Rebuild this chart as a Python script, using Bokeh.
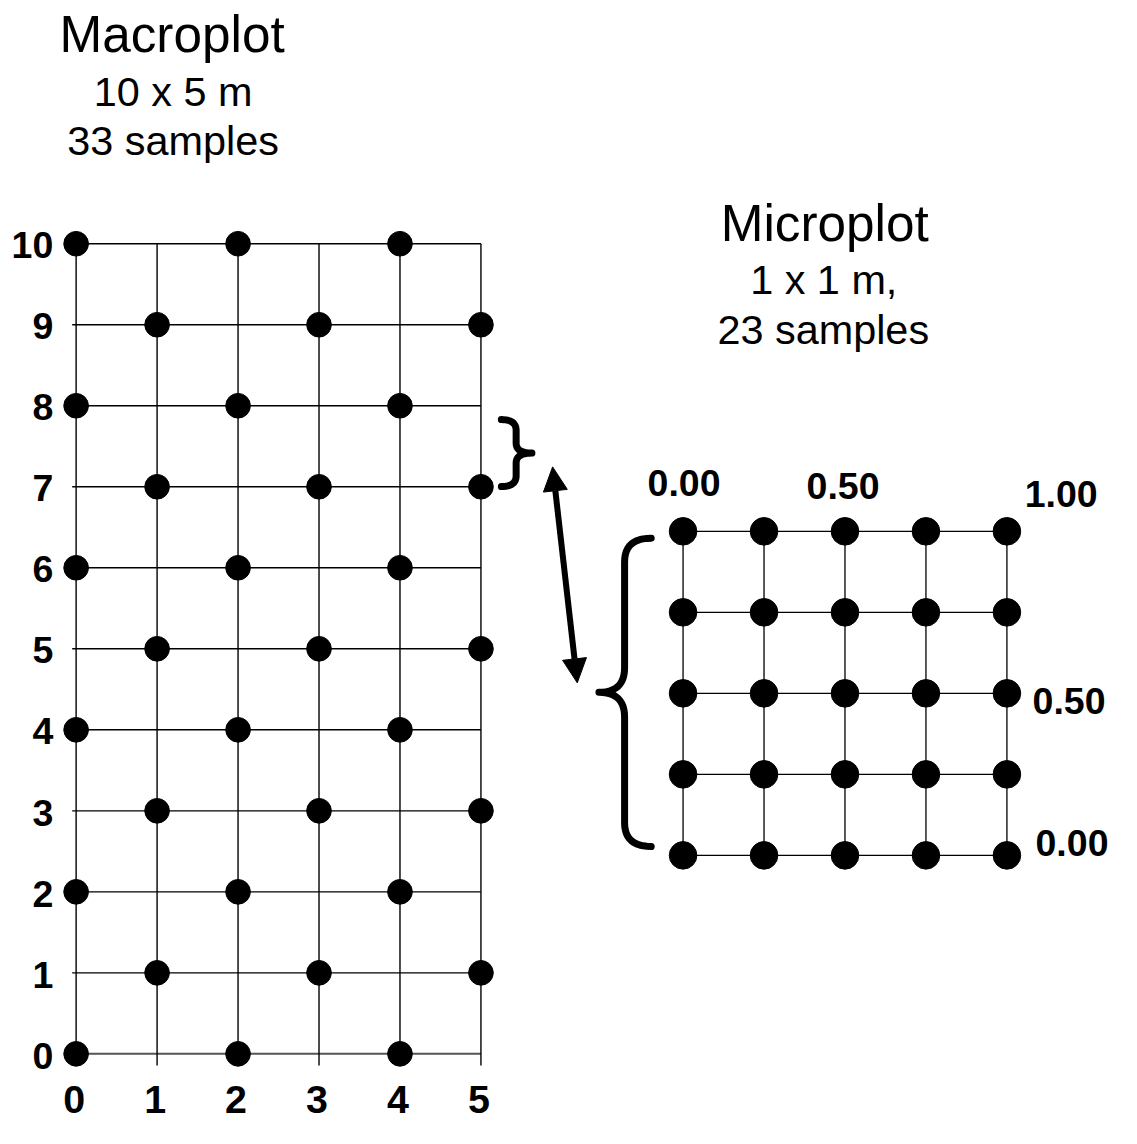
from bokeh.plotting import figure
from bokeh.models import Range1d, Arrow, NormalHead
from bokeh.core.properties import value
from bokeh.embed import file_html
from bokeh.resources import INLINE

# ---------------- data ----------------
macro_x_ticks = [0, 1, 2, 3, 4, 5]
macro_y_ticks = [0, 1, 2, 3, 4, 5, 6, 7, 8, 9, 10]
macro_x_labels = ["0", "1", "2", "3", "4", "5"]
macro_y_labels = ["0", "1", "2", "3", "4", "5", "6", "7", "8", "9", "10"]

# sample points of the macroplot (metres)
macro_pts_x = [0, 2, 4, 1, 3, 5, 0, 2, 4, 1, 3, 5, 0, 2, 4, 1, 3, 5,
               0, 2, 4, 1, 3, 5, 0, 2, 4, 1, 3, 5, 0, 2, 4]
macro_pts_y = [10, 10, 10, 9, 9, 9, 8, 8, 8, 7, 7, 7, 6, 6, 6, 5, 5, 5,
               4, 4, 4, 3, 3, 3, 2, 2, 2, 1, 1, 1, 0, 0, 0]

# microplot (metres)
micro_ticks = [0.0, 0.25, 0.5, 0.75, 1.0]
micro_pts_u = [0.0, 0.25, 0.5, 0.75, 1.0] * 5
micro_pts_v = [1.0] * 5 + [0.75] * 5 + [0.5] * 5 + [0.25] * 5 + [0.0] * 5
micro_top_vals = [0.0, 0.5, 1.0]
micro_top_labels = ["0.00", "0.50", "1.00"]
micro_right_vals = [0.5, 0.0]
micro_right_labels = ["0.50", "0.00"]

macro_title = ["Macroplot", "10 x 5 m", "33 samples"]
micro_title = ["Microplot", "1 x 1 m,", "23 samples"]

# ---------------- layout (reference pixels -> data units) ----------------
W, H = 1121, 1128
REF_W, REF_H = 1137, 1144
S = W / REF_W
PX, PY = 82.12, 82.16          # reference pixels per macroplot metre
X0P, Y0P = 76.7, 1068.3        # reference position of macroplot origin


def X(px):
    return (px - X0P) / PX


def Y(py):
    return (Y0P - py) / PY


def fs(n):
    return "%.1fpx" % (n * S)


def lift(n):
    # correction so that the alphabetic baseline lands where intended
    return -0.35 * n * S


MX0, MY0, MS = X(692.3), Y(867.0), 4.0   # microplot origin and scale


def mx(u):
    return MX0 + MS * u


def my(v):
    return MY0 + MS * v


p = figure(width=W, height=H,
           x_range=Range1d(X(0), X(REF_W)), y_range=Range1d(Y(REF_H), Y(0)),
           x_axis_type=None, y_axis_type=None,
           output_backend="svg", toolbar_location=None, min_border=0)
p.outline_line_color = None
p.background_fill_color = "white"
p.border_fill_color = "white"

FONT = value("Liberation Sans")

# ---- macroplot grid ----
h_y = [t for t in macro_y_ticks if t != 0]
p.segment(x0=[X(72.7)] * len(h_y), y0=h_y, x1=[macro_x_ticks[-1]] * len(h_y), y1=h_y,
          line_color="black", line_width=1.4)
p.segment(x0=[X(72.7)], y0=[0], x1=[macro_x_ticks[-1]], y1=[0],
          line_color="#555555", line_width=2)
p.segment(x0=macro_x_ticks, y0=[Y(1080)] * len(macro_x_ticks),
          x1=macro_x_ticks, y1=[macro_y_ticks[-1]] * len(macro_x_ticks),
          line_color="black", line_width=1.4)
p.scatter(x=macro_pts_x, y=macro_pts_y, size=25 * S, marker="circle",
          fill_color="black", line_color="black")

# macroplot tick labels
p.text(x=[X(53.5)] * len(macro_y_ticks), y=[t - 15 / PY for t in macro_y_ticks],
       text=macro_y_labels, text_font=FONT, text_font_size=value(fs(38)),
       text_font_style="bold", text_align="right", text_baseline="alphabetic",
       y_offset=lift(38), text_color="black")
p.text(x=[t - 2 / PX for t in macro_x_ticks], y=[Y(1129)] * len(macro_x_ticks),
       text=macro_x_labels, text_font=FONT, text_font_size=value(fs(40)),
       text_font_style="bold", text_align="center", text_baseline="alphabetic",
       y_offset=lift(40), text_color="black")

# ---- microplot grid ----
p.segment(x0=[mx(0)] * 5, y0=[my(v) for v in micro_ticks],
          x1=[mx(1)] * 5, y1=[my(v) for v in micro_ticks],
          line_color="black", line_width=1.3)
p.segment(x0=[mx(u) for u in micro_ticks], y0=[my(0)] * 5,
          x1=[mx(u) for u in micro_ticks], y1=[my(1)] * 5,
          line_color="black", line_width=1.3)
p.scatter(x=[mx(u) for u in micro_pts_u], y=[my(v) for v in micro_pts_v],
          size=28 * S, marker="circle", fill_color="black", line_color="black")

top_dx = [1, -2, 55]
top_dy = [36, 33, 25]
p.text(x=[mx(u) + d / PX for u, d in zip(micro_top_vals, top_dx)],
       y=[my(1) + d / PY for d in top_dy],
       text=micro_top_labels, text_font=FONT, text_font_size=value(fs(38)),
       text_font_style="bold", text_align="center", text_baseline="alphabetic",
       y_offset=lift(38), text_color="black")
right_dx = [26, 29]
right_dy = [-21, -1]
p.text(x=[mx(1) + d / PX for d in right_dx],
       y=[my(v) + d / PY for v, d in zip(micro_right_vals, right_dy)],
       text=micro_right_labels, text_font=FONT, text_font_size=value(fs(38)),
       text_font_style="bold", text_align="left", text_baseline="alphabetic",
       y_offset=lift(38), text_color="black")

# ---- titles ----
for title, cx, base in ((macro_title, [174, 175, 175], [52.5, 107.2, 157.2]),
                        (micro_title, [836, 835, 834.5], [244, 297.8, 348.8])):
    for t, x, b, size in zip(title, cx, base, [52, 42, 42]):
        p.text(x=[X(x)], y=[Y(b)], text=[t], text_font=FONT,
               text_font_size=value(fs(size)), text_align="center",
               text_baseline="alphabetic", y_offset=lift(size), text_color="black")


# ---- braces ----
def quad(a, c, b, n=12):
    pts = []
    for i in range(n + 1):
        t = i / n
        pts.append(((1 - t) ** 2 * a[0] + 2 * (1 - t) * t * c[0] + t ** 2 * b[0],
                    (1 - t) ** 2 * a[1] + 2 * (1 - t) * t * c[1] + t ** 2 * b[1]))
    return pts


def brace(xe, xm, xt, yt, yb, re, rt):
    yc = (yt + yb) / 2
    pts = []
    pts += quad((xe, yt), (xm, yt), (xm, yt - re))
    pts += quad((xm, yc + rt), (xm, yc), (xt, yc))
    pts += quad((xt, yc), (xm, yc), (xm, yc - rt))
    pts += quad((xm, yb + re), (xm, yb), (xe, yb))
    return [q[0] for q in pts], [q[1] for q in pts]


bx, by = brace(X(508), X(523), X(539), Y(425), Y(493), 11 / PY, 10 / PY)
p.line(bx, by, line_color="black", line_width=7, line_cap="round", line_join="round")
bx, by = brace(mx(0) - 32.3 / PX, mx(0) - 59.3 / PX, mx(0) - 85.3 / PX,
               my(1) - 7 / PY, my(0) + 9 / PY, 24 / PY, 25 / PY)
p.line(bx, by, line_color="black", line_width=7, line_cap="round", line_join="round")

# ---- double arrow ----
p.add_layout(Arrow(x_start=X(585), y_start=Y(692), x_end=X(560), y_end=Y(473),
                   start=NormalHead(size=24, fill_color="black", line_color="black"),
                   end=NormalHead(size=24, fill_color="black", line_color="black"),
                   line_width=6, line_color="black"))

open("out.html", "w").write(file_html(p, INLINE))
